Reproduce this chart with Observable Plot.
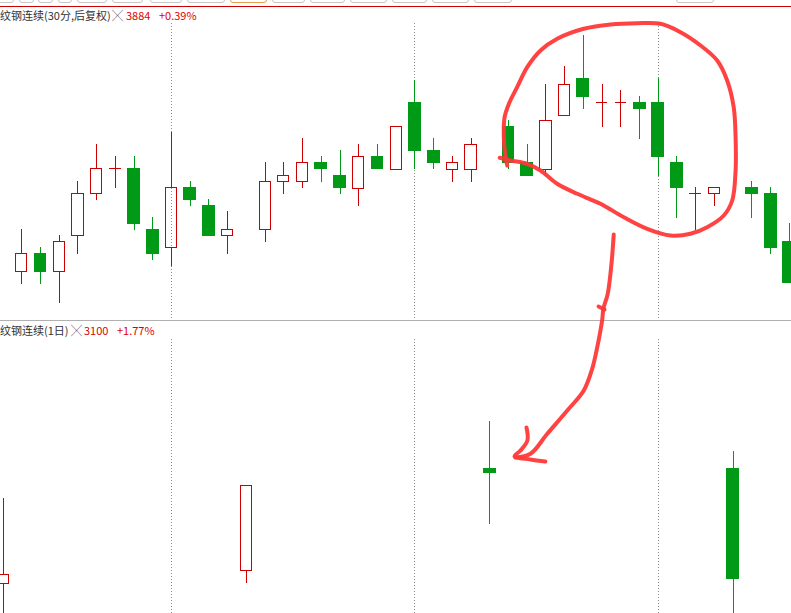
<!DOCTYPE html>
<html>
<head>
<meta charset="utf-8">
<script src="https://cdn.jsdelivr.net/npm/d3@7"></script>
<script src="https://cdn.jsdelivr.net/npm/@observablehq/plot@0.6"></script>
<style>
html, body { margin: 0; padding: 0; background: #fff; }
#root { position: relative; width: 791px; height: 613px; overflow: hidden; background: #fff;
        font-family: "Noto Sans CJK SC", "Noto Sans", sans-serif; }
.layer { position: absolute; left: 0; }
.tab { position: absolute; top: -12px; height: 15px; border: 1px solid #c6c6c6; border-radius: 3px;
       box-sizing: border-box; background: #fff; }
.txt { position: absolute; font-size: 11px; line-height: 14px; white-space: nowrap; color: #333; }
.red { color: #dd0000; }
</style>
</head>
<body>
<div id="root"></div>
<script>
// ---------- 30-minute bars (slot index, OHLC) ----------
const slots30 = [0,1,2,3,4,5,6,7,8,9,10,11,13,14,15,16,17,18,19,20,21,22,23,24,26,27,28,29,30,31,32,33,34,35,36,37,39,40,41];
const open30  = [3896,3914,3896,3932,3974,3999,3999,3938,3920,3980,3962,3932,3938,3986,3986,4005,3992,3979,4011,3998,4065,4017,3998,3998,4041,4005,3998,4052,4089,4065,4065,4065,4065,4005,3974,3974,3980,3974,3926];
const high30  = [3938,3920,3932,3986,4023,4011,4011,3950,4035,3986,3968,3956,4005,4005,4029,4011,4017,4023,4023,4041,4087,4029,4011,4029,4047,4023,4083,4101,4132,4083,4077,4071,4089,4011,3980,3980,3986,3980,3944];
const low30   = [3883,3883,3864,3913,3967,3979,3937,3907,3901,3961,3931,3913,3925,3973,3979,3985,3973,3961,3998,3998,3998,3998,3985,3985,3998,3991,3991,4052,4058,4040,4040,4028,3991,3949,3937,3961,3949,3913,3884];
const close30 = [3914,3895,3926,3974,3999,3999,3943,3913,3980,3967,3931,3938,3986,3992,4005,3998,3979,4011,3998,4041,4016,4004,4005,4023,4004,3991,4047,4083,4070,4065,4065,4058,4010,3979,3974,3980,3973,3919,3884];

// ---------- daily bars (aligned to the same slot index) ----------
const slotsDay = [-1, 12, 25, 38];
const openDay  = [3096, 3109, 3211, 3211];
const highDay  = [3181, 3194, 3258, 3228];
const lowDay   = [3030, 3096, 3155, 3030];
const closeDay = [3105, 3194, 3206, 3100];

// day separators (slot index)
const dayBreaks = [8, 21, 34];

// header texts
const title30 = "纹钢连续(30分,后复权)";
const price30 = "3884";
const chg30 = "+0.39%";
const titleDay = "纹钢连续(1日)";
const priceDay = "3100";
const chgDay = "+1.77%";

// ---------- hand-drawn annotation (slot index, 30-min price units) ----------
const circleI = [25.53,26.11,27.00,27.71,28.60,29.67,30.91,32.16,33.41,34.65,35.72,36.61,37.50,37.95,38.13,38.13,38.03,37.68,37.15,36.26,35.19,34.12,32.87,31.45,30.02,28.60,27.71,27.00,26.46,26.02,25.79,25.75,25.84,25.93];
const circleP = [4009.7,4007,4003.7,3997,3983.7,3973.7,3963.7,3950.3,3938.7,3932,3933.7,3940.3,3952,3967,3997,4030.3,4060.3,4087,4107,4122,4135.3,4143.7,4144.3,4143,4138.7,4128.7,4117,4100.3,4080.3,4063.7,4050.3,4030.3,4010.3,4002];
const arrowI = [31.62,31.50,31.30,31.07,31.00,30.74,30.47,30.02,29.14,28.07,27.17,26.37];
const arrowP = [3933,3903.7,3873.7,3859,3847,3820.3,3798.7,3777,3757,3733.7,3713.7,3710];
const headI = [26.96,27.01,26.64,26.32,27.17,27.97];
const headP = [3740,3727,3717,3711,3708,3706];
const tickI = [30.81, 31.13];
const tickP = [3861, 3858];

// tabs along the top edge (left, right in px)
const tabs = [[-4,14],[19,34],[38,53],[58,72],[77,107],[112,143],[150,182],[187,225],[230,267,"o"],[272,305],[310,345],[350,387],[392,427],[432,469],[474,512],[676,714]];

// ---------- build ----------
const RED = "#cc0000", GREEN = "#009a16", PEN = "#ff3838";
const W = 791;
const xDomain = [-1.138, 41.117];

const rows30 = slots30.map((s, k) => ({i: s, o: open30[k], h: high30[k], l: low30[k], c: close30[k]}));
const rowsDay = slotsDay.map((s, k) => ({i: s, o: openDay[k], h: highDay[k], l: lowDay[k], c: closeDay[k]}));

function candleMarks(rows) {
  const up = rows.filter(d => d.c > d.o), dn = rows.filter(d => d.c < d.o), eq = rows.filter(d => d.c === d.o);
  const crisp = {shapeRendering: "crispEdges"};
  return [
    Plot.ruleX(up.concat(eq), {x: "i", y1: "h", y2: d => Math.max(d.o, d.c), stroke: RED, ...crisp}),
    Plot.ruleX(up.concat(eq), {x: "i", y1: d => Math.min(d.o, d.c), y2: "l", stroke: RED, ...crisp}),
    Plot.ruleX(dn, {x: "i", y1: "h", y2: "l", stroke: GREEN, ...crisp}),
    Plot.rect(up, {x1: d => d.i - 0.3, x2: d => d.i + 0.3, y1: "o", y2: "c", fill: "none", stroke: RED, ...crisp}),
    Plot.rect(dn, {x1: d => d.i - 0.345, x2: d => d.i + 0.345, y1: "o", y2: "c", fill: GREEN, ...crisp}),
    Plot.ruleY(eq, {y: "o", x1: d => d.i - 0.31, x2: d => d.i + 0.31, stroke: RED, ...crisp})
  ];
}

const root = document.getElementById("root");

// top panel (30 min)
const topPlot = Plot.plot({
  width: W, height: 321, marginTop: 23, marginBottom: 3, marginLeft: 0, marginRight: 0,
  x: {domain: xDomain, axis: null},
  y: {domain: [3849, 4144], axis: null},
  style: {background: "transparent"},
  marks: [
    Plot.ruleX(dayBreaks, {stroke: "#8c8c8c", strokeDasharray: "1,2", shapeRendering: "crispEdges"}),
    ...candleMarks(rows30)
  ]
});
const topWrap = document.createElement("div");
topWrap.className = "layer"; topWrap.style.top = "0px";
topWrap.appendChild(topPlot);
root.appendChild(topWrap);

// bottom panel (daily)
const botPlot = Plot.plot({
  width: W, height: 291, marginTop: 17, marginBottom: 0, marginLeft: 0, marginRight: 0,
  x: {domain: xDomain, axis: null},
  y: {domain: [3066, 3340], axis: null},
  style: {background: "transparent"},
  marks: [
    Plot.ruleX(dayBreaks, {stroke: "#8c8c8c", strokeDasharray: "1,2", shapeRendering: "crispEdges"}),
    ...candleMarks(rowsDay)
  ]
});
const botWrap = document.createElement("div");
botWrap.className = "layer"; botWrap.style.top = "322px";
botWrap.appendChild(botPlot);
root.appendChild(botWrap);

// chrome: tabs, red line, separator
for (const t of tabs) {
  const d = document.createElement("div");
  d.className = "tab";
  d.style.left = t[0] + "px"; d.style.width = (t[1] - t[0]) + "px";
  if (t[2]) d.style.borderColor = "#e8a050";
  root.appendChild(d);
}
function bar(top, color) {
  const d = document.createElement("div");
  d.style.cssText = `position:absolute;left:0;top:${top}px;width:${W}px;height:1px;background:${color};`;
  root.appendChild(d);
}
bar(6, "#cc0000");
bar(320, "#b0b0b0");

// header texts
function txt(str, left, top, cls) {
  const s = document.createElement("div");
  s.className = "txt" + (cls ? " " + cls : "");
  s.style.left = left + "px"; s.style.top = top + "px";
  s.textContent = str;
  root.appendChild(s);
}
txt(title30, 0, 8);
txt("╳", 112, 8);
txt(price30, 126, 8, "red");
txt(chg30, 159, 8, "red");
txt(titleDay, 0, 323);
txt("╳", 71, 323);
txt(priceDay, 84, 323, "red");
txt(chgDay, 117, 323, "red");

// annotation overlay
const ann = [
  ...circleI.map((v, k) => ({i: v, p: circleP[k], g: "circle"})),
  ...arrowI.map((v, k) => ({i: v, p: arrowP[k], g: "arrow"})),
  ...headI.map((v, k) => ({i: v, p: headP[k], g: "head"})),
  ...tickI.map((v, k) => ({i: v, p: tickP[k], g: "tick"}))
];
const annPlot = Plot.plot({
  width: W, height: 613, marginTop: 0, marginBottom: 0, marginLeft: 0, marginRight: 0,
  x: {domain: xDomain, axis: null},
  y: {domain: [3554, 4167], axis: null},
  style: {background: "transparent"},
  marks: [
    Plot.line(ann, {x: "i", y: "p", z: "g", curve: "catmull-rom", stroke: PEN, strokeWidth: 4,
                    strokeLinecap: "round", strokeLinejoin: "round", strokeOpacity: 0.95})
  ]
});
const annWrap = document.createElement("div");
annWrap.className = "layer"; annWrap.style.top = "0px"; annWrap.style.pointerEvents = "none";
annWrap.appendChild(annPlot);
root.appendChild(annWrap);
</script>
</body>
</html>
